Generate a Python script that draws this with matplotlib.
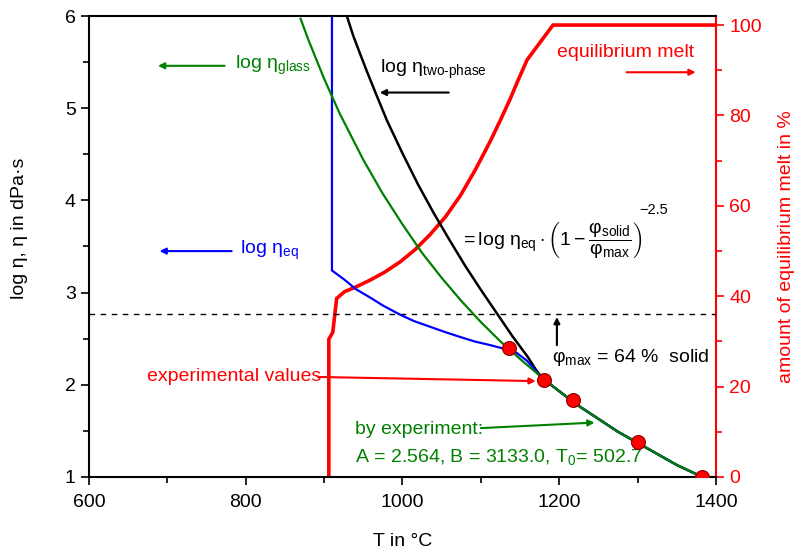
import matplotlib
matplotlib.use("Agg")
import matplotlib.pyplot as plt
from matplotlib import font_manager
from matplotlib.ticker import MultipleLocator

_names = {f.name for f in font_manager.fontManager.ttflist}
if 'Liberation Sans Narrow' in _names:
    FAM = 'Liberation Sans Narrow'
    FS = 16.5
else:
    FAM = 'Liberation Sans'
    FS = 14

plt.rcParams['font.family'] = [FAM, 'DejaVu Sans']
plt.rcParams['mathtext.fontset'] = 'custom'
plt.rcParams['mathtext.rm'] = FAM
plt.rcParams['mathtext.it'] = FAM + ':italic'
plt.rcParams['mathtext.bf'] = FAM + ':bold'

# ---- data ----
T_glass = [870, 880, 900, 920, 950, 975, 1000, 1025, 1050, 1075, 1100, 1125,
           1150, 1175, 1200, 1225, 1250, 1275, 1300, 1325, 1350, 1380]
eta_glass = [5.97, 5.74, 5.32, 4.94, 4.44, 4.07, 3.74, 3.43, 3.16, 2.91, 2.68, 2.47,
             2.28, 2.10, 1.93, 1.77, 1.63, 1.49, 1.37, 1.25, 1.13, 1.01]

T_two = [929, 937, 945, 955, 965, 980, 1000, 1020, 1040, 1060, 1080, 1100, 1120,
         1140, 1160, 1172, 1180, 1200, 1225, 1250, 1275, 1300, 1325, 1350, 1380]
eta_two = [6.00, 5.79, 5.61, 5.39, 5.18, 4.87, 4.51, 4.17, 3.86, 3.57, 3.29, 3.03,
           2.78, 2.53, 2.30, 2.14, 2.06, 1.93, 1.77, 1.63, 1.49, 1.37, 1.25, 1.13,
           1.01]

T_eq = [910, 910, 926, 940, 958, 975, 997, 1015, 1035, 1055, 1073, 1092, 1112,
        1130, 1145, 1159, 1175, 1200, 1225, 1250, 1275, 1300, 1325, 1350, 1380]
eta_eq = [6.0, 3.24, 3.14, 3.04, 2.95, 2.86, 2.76, 2.69, 2.63, 2.57, 2.52, 2.47,
          2.43, 2.39, 2.35, 2.26, 2.10, 1.93, 1.77, 1.63, 1.49, 1.37, 1.25, 1.13,
          1.01]

T_melt = [906, 906, 911, 916, 926, 940, 958, 977, 997, 1016, 1035, 1055, 1074,
          1093, 1112, 1125, 1137, 1148, 1159, 1192, 1400]
melt_pct = [0, 30.5, 32, 39.5, 41, 42, 43.5, 45.3, 47.6, 50.3, 53.6, 57.6, 62.3,
            68, 74.3, 79, 83.5, 88, 92.3, 100, 100]

T_exp = [1136, 1181, 1218, 1300, 1382]
eta_exp = [2.40, 2.05, 1.84, 1.38, 1.00]

phi_line = 2.765

fig = plt.figure(figsize=(7.96, 5.58), dpi=100)
ax = fig.add_axes([0.1118, 0.1452, 0.7877, 0.8261])
ax2 = ax.twinx()
ax.set_zorder(ax2.get_zorder() + 1)
ax.patch.set_visible(False)

# right axis: equilibrium melt
ax2.plot(T_melt, melt_pct, color='#ff0000', lw=2.6, solid_joinstyle='miter')
ax2.set_ylim(0, 102)
ax2.yaxis.set_major_locator(MultipleLocator(20))
ax2.yaxis.set_minor_locator(MultipleLocator(10))
ax2.tick_params(axis='y', which='both', colors='#ff0000', direction='out',
                labelsize=FS, width=1.2)
ax2.tick_params(axis='y', which='major', length=6)
ax2.tick_params(axis='y', which='minor', length=4)
ax2.spines['right'].set_color('#ff0000')
ax2.spines['right'].set_linewidth(1.5)
for s in ['left', 'top', 'bottom']:
    ax2.spines[s].set_visible(False)
ax2.set_ylabel('amount of equilibrium melt in %', color='#ff0000', fontsize=FS,
               labelpad=12)

# left axis curves
ax.axhline(phi_line, color='black', lw=1.0, ls=(0, (4, 4)))
ax.plot(T_two, eta_two, color='black', lw=1.8)
ax.plot(T_eq, eta_eq, color='#0000ff', lw=1.6)
ax.plot(T_glass, eta_glass, color='#008000', lw=1.6)
ax.plot(T_exp, eta_exp, 'o', color='#ff0000', markersize=10,
        markeredgecolor='#8b0000', markeredgewidth=0.8, zorder=5)

ax.set_xlim(600, 1400)
ax.set_ylim(1, 6)
ax.xaxis.set_major_locator(MultipleLocator(200))
ax.xaxis.set_minor_locator(MultipleLocator(100))
ax.yaxis.set_major_locator(MultipleLocator(1))
ax.yaxis.set_minor_locator(MultipleLocator(0.5))
ax.tick_params(which='both', direction='out', labelsize=FS, width=1.2)
ax.tick_params(which='major', length=6)
ax.tick_params(which='minor', length=4)
ax.tick_params(axis='x', pad=6)
for s in ['left', 'bottom', 'top']:
    ax.spines[s].set_linewidth(1.5)
ax.spines['right'].set_visible(False)

ax.set_xlabel('T in °C', fontsize=FS, labelpad=16)
ax.set_ylabel('log η, η in dPa·s', fontsize=FS)
ax.yaxis.set_label_coords(-0.097, 0.54)

arrow_kw = dict(arrowstyle='-|>', lw=1.5, mutation_scale=9, shrinkA=0, shrinkB=0)

# log eta glass
ax.text(786, 5.46, 'log η$_{\\rm glass}$', color='#008000', fontsize=FS,
        va='center', ha='left')
ax.annotate('', xy=(688, 5.46), xytext=(773, 5.46),
            arrowprops=dict(color='#008000', **arrow_kw))

# log eta two-phase
ax.text(971, 5.42, 'log η$_{\\rm two\\text{-}phase}$', color='black', fontsize=FS,
        va='center', ha='left')
ax.annotate('', xy=(971, 5.17), xytext=(1059, 5.17),
            arrowprops=dict(color='black', **arrow_kw))

# log eta eq
ax.text(793, 3.46, 'log η$_{\\rm eq}$', color='#0000ff', fontsize=FS,
        va='center', ha='left')
ax.annotate('', xy=(690, 3.45), xytext=(782, 3.45),
            arrowprops=dict(color='#0000ff', **arrow_kw))

# equilibrium melt
ax.text(1197, 5.60, 'equilibrium melt', color='#ff0000', fontsize=FS,
        va='center', ha='left')
ax.annotate('', xy=(1374, 5.39), xytext=(1286, 5.39),
            arrowprops=dict(color='#ff0000', **arrow_kw))

# formula
ax.text(1074, 3.56,
        r'$=\mathrm{log\ η}_{\mathrm{eq}}\cdot\left(1-\dfrac{\mathrm{φ}_{\mathrm{solid}}}{\mathrm{φ}_{\mathrm{max}}}\right)$',
        color='black', fontsize=FS, va='center', ha='left')
ax.text(1302, 3.90, '−2.5', color='black', fontsize=FS * 0.75,
        va='center', ha='left')

# phi max
ax.annotate('', xy=(1197, phi_line - 0.03), xytext=(1197, 2.43),
            arrowprops=dict(color='black', **arrow_kw))
ax.text(1191, 2.30, 'φ$_{\\rm max}$ = 64 %  solid', color='black', fontsize=FS,
        va='center', ha='left')

# experimental values
ax.text(674, 2.085, 'experimental values', color='#ff0000', fontsize=FS,
        va='center', ha='left')
ax.annotate('', xy=(1170, 2.04), xytext=(892, 2.085),
            arrowprops=dict(color='#ff0000', **arrow_kw))

# by experiment
ax.text(939, 1.51, 'by experiment:', color='#008000', fontsize=FS,
        va='center', ha='left')
ax.annotate('', xy=(1245, 1.59), xytext=(1100, 1.53),
            arrowprops=dict(color='#008000', **arrow_kw))
ax.text(939, 1.22, 'A = 2.564, B = 3133.0, T$_{\\rm 0}$= 502.7', color='#008000',
        fontsize=FS, va='center', ha='left')

fig.savefig('out.png', dpi=100)
